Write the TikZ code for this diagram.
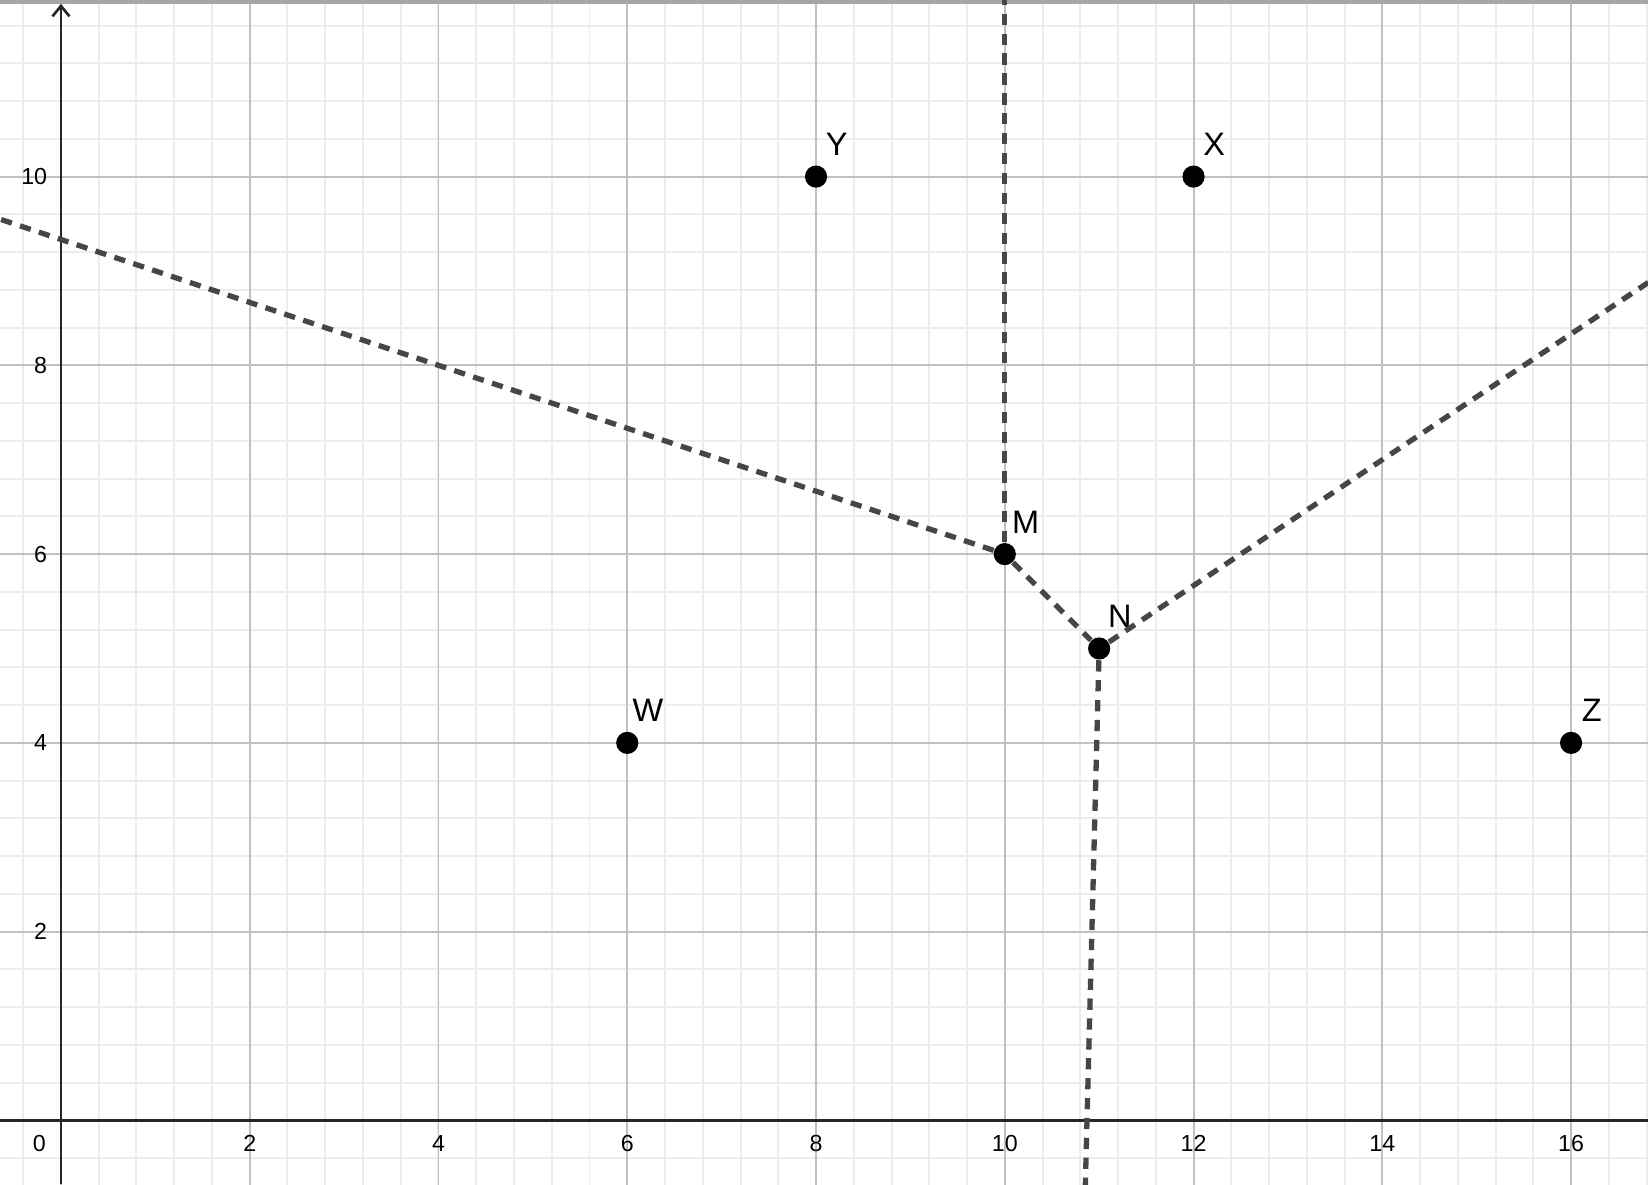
\documentclass[tikz,border=0pt]{standalone}
\usepackage{fontspec}
\newfontfamily\plotfont{Liberation Sans}
\usetikzlibrary{arrows.meta,calc}

\definecolor{minorgrid}{RGB}{236,236,236}
\definecolor{majorgrid}{RGB}{192,192,192}
\definecolor{edgegray}{RGB}{70,70,70}

\begin{document}
\begin{tikzpicture}[
  minor/.style={draw=minorgrid, line width=0.6pt},
  major/.style={draw=majorgrid, line width=0.6pt},
  axis/.style={draw=black!85, line width=0.8pt},
  edge/.style={draw=edgegray, line width=1.6pt, dash pattern=on 3.4pt off 2.6pt},
  site/.style={circle, fill=black, inner sep=0pt, minimum size=0.235cm},
  sitelabel/.style={font=\plotfont\fontsize{9.8}{12}\selectfont, inner sep=0pt},
  tick/.style={font=\plotfont\fontsize{7}{8}\selectfont, inner sep=0pt}]

  \useasboundingbox (-0.646,-0.674) rectangle (16.815,11.871);
  \clip (-0.646,-0.674) rectangle (16.815,11.871);

  % grid
  \draw[minor] (-0.8,-0.8) grid[step=0.4] (17.2,12);
  \draw[major] (-2,-2) grid[step=2] (18,12);

  % axes
  \draw[axis] (-0.646,0) -- (16.815,0);
  \draw[axis, -{Straight Barb[length=1.1mm,width=1.8mm]}] (0,-0.674) -- (0,11.83);
  \draw[gray!70, line width=1.2pt] (-0.646,11.85) -- (16.815,11.85);

  \node[tick] at (-0.23,-0.245) {0};
  \foreach \x in {2,4,...,16}
    \node[tick] at (\x,-0.245) {\x};
  \foreach \y in {2,4,...,10}
    \node[tick, anchor=east] at (-0.14,\y) {\y};

  % sites and vertices
  \node[site] (W) at (6,4)   {};
  \node[site] (Y) at (8,10)  {};
  \node[site] (X) at (12,10) {};
  \node[site] (Z) at (16,4)  {};
  \node[site] (M) at (10,6)  {};
  \node[site] (N) at (11,5)  {};

  \foreach \p in {W,Y,X,Z,M,N}
    \node[sitelabel] at ($(\p)+(0.22,0.34)$) {\p};

  % edge ends
  \coordinate (top)    at (10,11.9);
  \coordinate (left)   at (-0.7,9.567);
  \coordinate (right)  at (16.9,8.933);
  \coordinate (bottom) at (10.853,-0.7);

  \draw[edge] (M) -- (top);
  \draw[edge] (M) -- (left);
  \draw[edge] (M) -- (N);
  \draw[edge] (N) -- (right);
  \draw[edge] (N) -- (bottom);

\end{tikzpicture}
\end{document}
